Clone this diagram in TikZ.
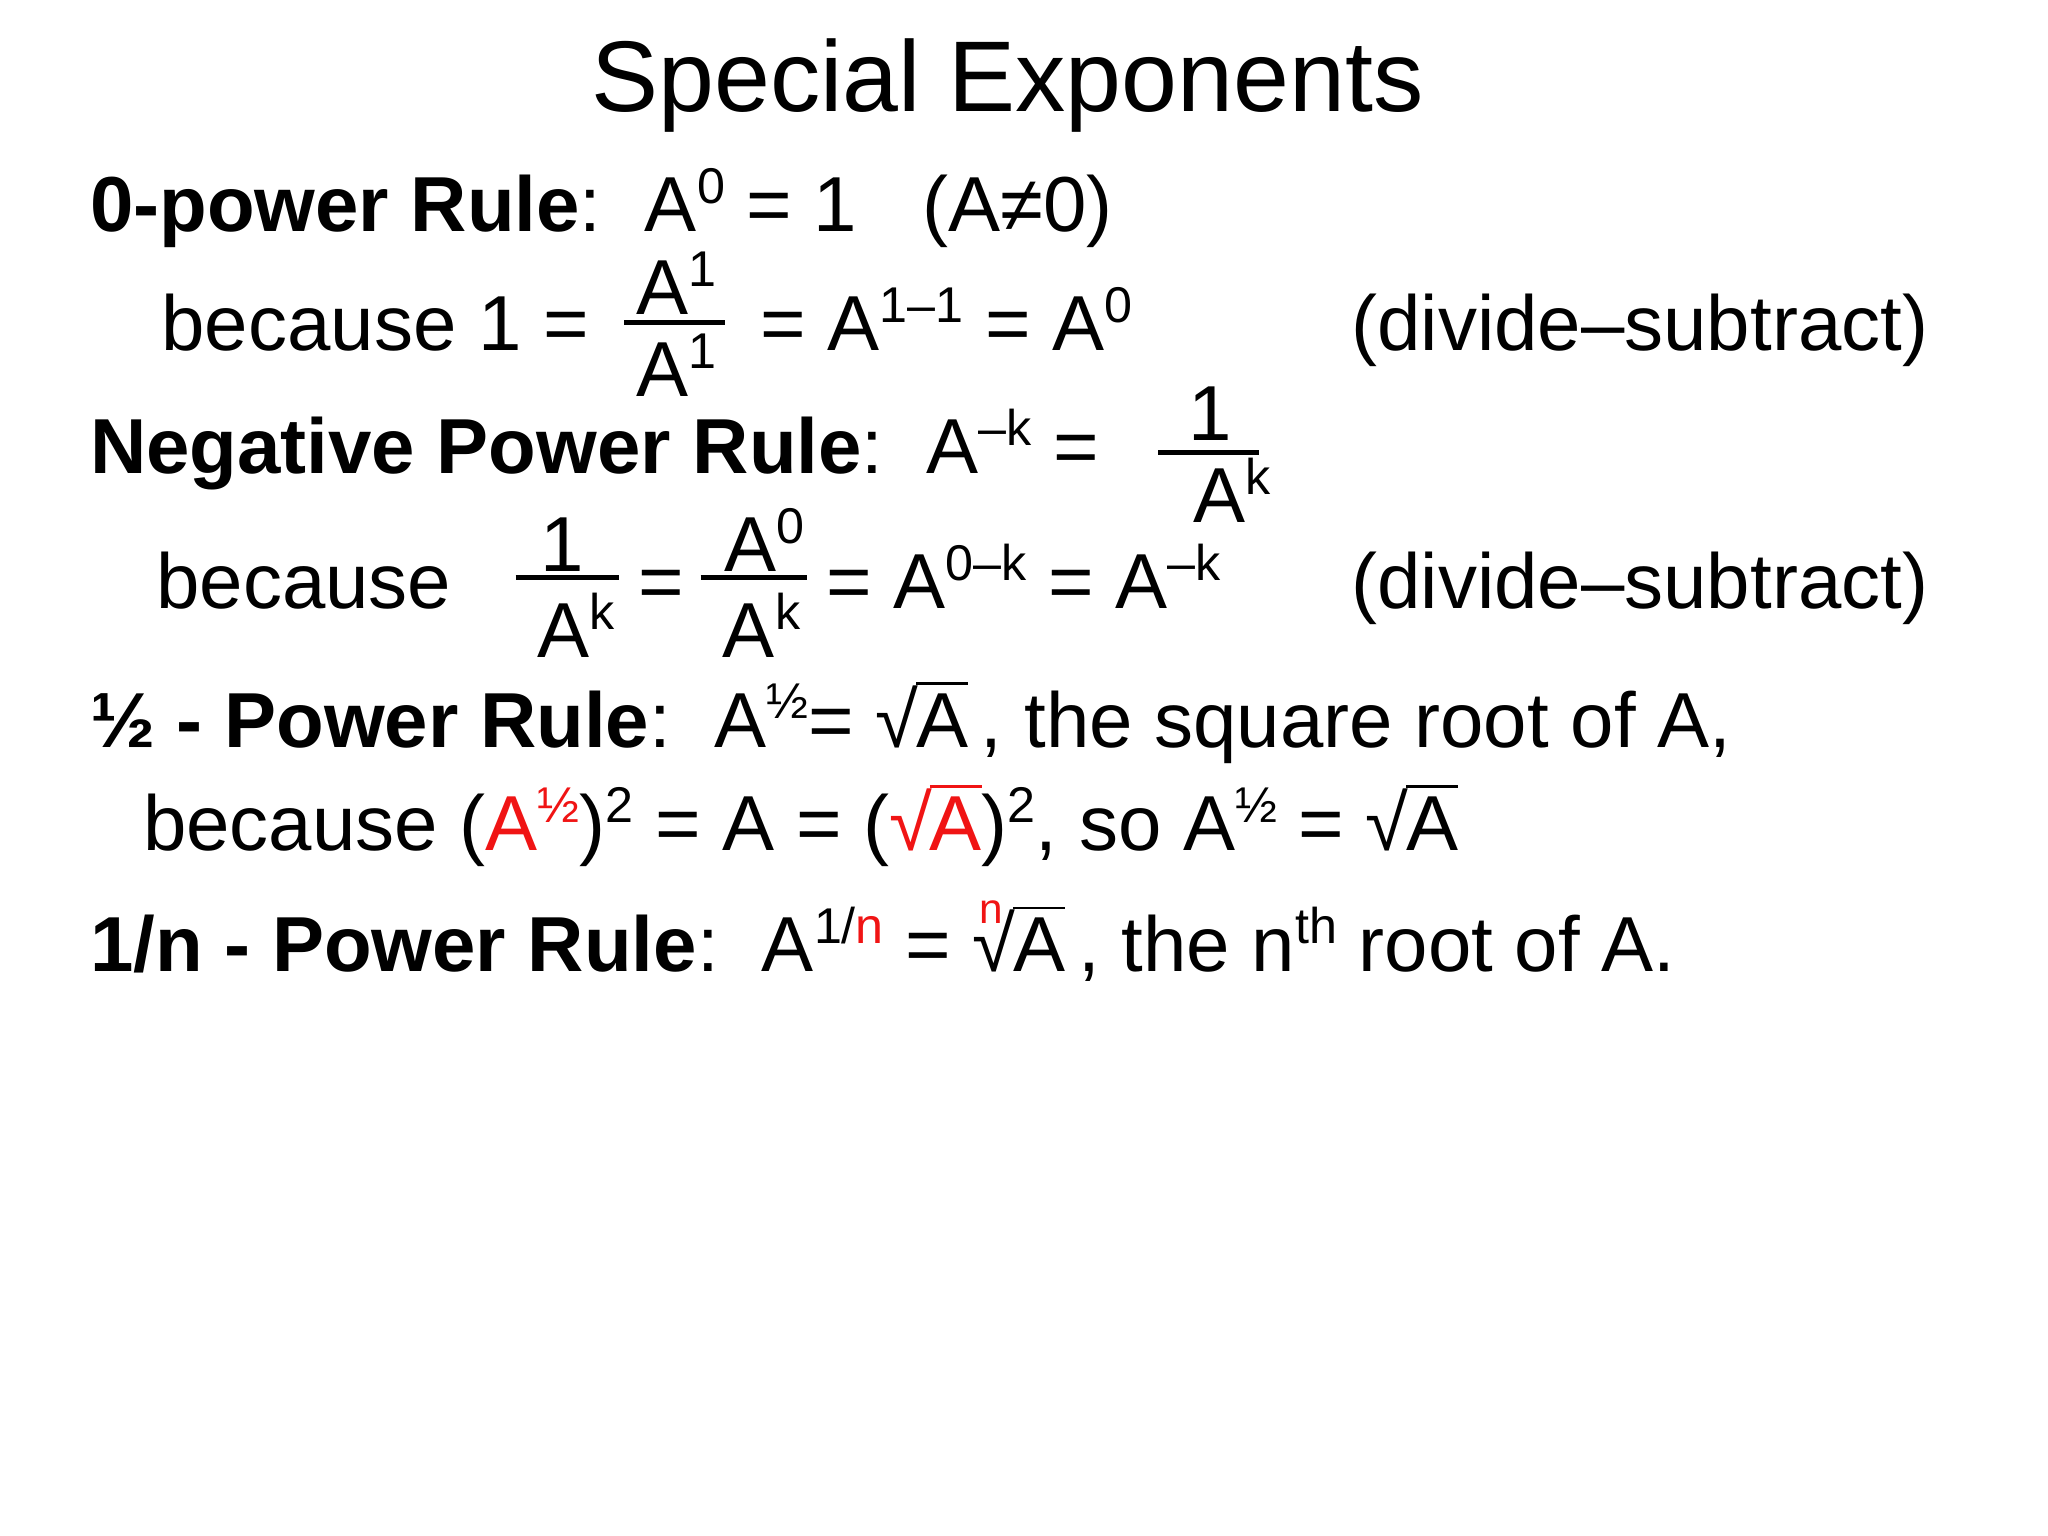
\documentclass[tikz,border=0pt]{standalone}
\usepackage{fontspec}
\setmainfont{Liberation Sans}
\usepackage{xcolor}
\definecolor{myred}{RGB}{240,20,20}
\newcommand{\ex}[1]{\raisebox{0.36em}{\fontsize{38}{38}\selectfont #1}}
\newcommand{\rt}[1]{√\kern-0.03em\setbox0\hbox{#1}\rlap{\rule[0.80em]{\wd0}{0.035em}}\box0}
\tikzset{tx/.style={anchor=base west,inner sep=0pt,font=\fontsize{59}{59}\selectfont},
 tc/.style={anchor=base,inner sep=0pt,font=\fontsize{59}{59}\selectfont},
 bar/.style={line width=4pt}}
\begin{document}
\begin{tikzpicture}[x=1pt,y=-1pt]
\fill[white] (0,0) rectangle (1549,1161);
\useasboundingbox (0,0) rectangle (1549,1161);
\node[anchor=base,inner sep=0pt,font=\fontsize{76}{76}\selectfont] (title) at (762,84) {Special Exponents};
% line 1
\node[tx] (l1) at (68,175) {\textbf{0-power Rule}:\ \ A\ex{0} = 1 \ \ (A≠0)};
% line 2
\node[tx] (l2) at (122,265) {because 1 =};
\node[tc] (n2) at (512,238) {A\ex{1}};
\node[tc] (d2) at (512,300) {A\ex{1}};
\draw[bar] (472,244) -- (548,244);
\node[tx] (l2b) at (575,265) {= A\ex{1–1} = A\ex{0}};
\node[tx] (ds1) at (1022,265) {(divide–subtract)};
% line 3
\node[tx] (l3) at (68,358) {\textbf{Negative Power Rule}:\ \ A\ex{–k} =};
\node[tc] (n3) at (915,333) {1};
\node[tc] (d3) at (932,395) {A\ex{k}};
\draw[bar] (876,342) -- (952,342);
% line 4
\node[tx] (l4) at (118,460) {because};
\node[tc] (n4a) at (425,432) {1};
\node[tc] (d4a) at (436,497) {A\ex{k}};
\draw[bar] (390,437) -- (468,437);
\node[tc] (eq4) at (500,460) {=};
\node[tc] (n4b) at (578,432) {A\ex{0}};
\node[tc] (d4b) at (576,497) {A\ex{k}};
\draw[bar] (530,437) -- (610,437);
\node[tx] (l4b) at (625,460) {= A\ex{0–k} = A\ex{–k}};
\node[tx] (ds2) at (1022,460) {(divide–subtract)};
% line 5
\node[tx] (l5) at (68,565) {\textbf{½ - Power Rule}:\ \ A\ex{½}= \rt{A}\,, the square root of A,};
% line 6
\node[tx] (l6) at (108,643) {because (\textcolor{myred}{A\ex{½}})\ex{2} = A = (\textcolor{myred}{\rt{A}})\ex{2}, so A\ex{½} = \rt{A}};
% line 7
\node[tx] (l7) at (68,735) {\textbf{1/n - Power Rule}:\ \ A\ex{1/\textcolor{myred}{n}} = \rlap{\kern0.08em\raisebox{0.62em}{\fontsize{32}{32}\selectfont\textcolor{myred}{n}}}\rt{A}\,, the n\ex{th} root of A.};
\end{tikzpicture}
\end{document}
